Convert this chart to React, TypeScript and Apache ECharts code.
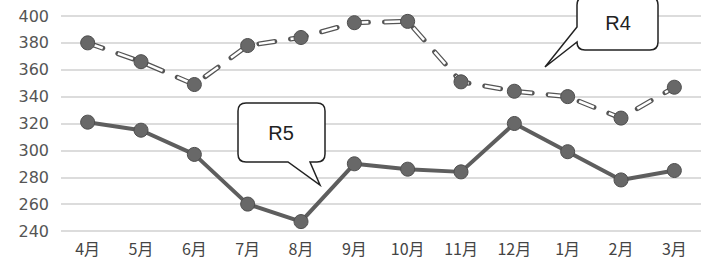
import React, { useEffect, useRef } from "react";
import * as echarts from "echarts";

const months = ["4月", "5月", "6月", "7月", "8月", "9月", "10月", "11月", "12月", "1月", "2月", "3月"];
const r4Values = [380, 366, 349, 378, 384, 395, 396, 351, 344, 340, 324, 347];
const r5Values = [321, 315, 297, 260, 247, 290, 286, 284, 320, 299, 278, 285];
const yMin = 240;
const yMax = 400;
const yStep = 20;

const bubbleR5 =
  "M 246 103 H 317 Q 325 103 325 111 V 154 Q 325 162 317 162 H 310 L 320 185 L 288 162 H 246 Q 238 162 238 154 V 111 Q 238 103 246 103 Z";
const bubbleR4 =
  "M 585 -3 H 650 Q 658 -3 658 5 V 42 Q 658 50 650 50 H 585 Q 577 50 577 42 L 545 67 L 577 27 V 5 Q 577 -3 585 -3 Z";

let registered = false;
function registerShapes() {
  if (registered) return;
  registered = true;
  echarts.graphic.registerShape("bubbleR5", echarts.graphic.extendPath(bubbleR5, {}));
  echarts.graphic.registerShape("bubbleR4", echarts.graphic.extendPath(bubbleR4, {}));
}

export default function App() {
  const ref = useRef<HTMLDivElement>(null);
  useEffect(() => {
    document.body.style.margin = "0";
    registerShapes();
    const chart = echarts.init(ref.current!, null, { renderer: "svg" });
    const dash = [16, 16];
    chart.setOption({
      animation: false,
      backgroundColor: "#ffffff",
      grid: { left: 61, right: 1, top: 16, bottom: 33, containLabel: false },
      xAxis: {
        type: "category",
        data: months,
        boundaryGap: true,
        axisLine: { show: false },
        axisTick: { show: false },
        axisLabel: {
          margin: 9,
          fontSize: 16,
          color: "#444444",
          fontFamily: "Noto Sans CJK JP",
        },
      },
      yAxis: {
        type: "value",
        min: yMin,
        max: yMax,
        interval: yStep,
        axisLine: { show: false },
        axisTick: { show: false },
        axisLabel: {
          margin: 12,
          fontSize: 16,
          color: "#555555",
          fontFamily: "DejaVu Sans",
        },
        splitLine: { lineStyle: { color: "#dcdcdc", width: 2 } },
      },
      series: [
        {
          name: "R4 outline",
          type: "line",
          data: r4Values,
          showSymbol: false,
          silent: true,
          z: 2,
          lineStyle: { color: "#555555", width: 5, type: dash, cap: "round" },
        },
        {
          name: "R4",
          type: "line",
          data: r4Values,
          symbol: "circle",
          symbolSize: 14,
          z: 3,
          lineStyle: { color: "#ffffff", width: 2.5, type: dash, cap: "butt" },
          itemStyle: { color: "#686868", borderColor: "#4e4e4e", borderWidth: 1 },
        },
        {
          name: "R5",
          type: "line",
          data: r5Values,
          symbol: "circle",
          symbolSize: 14,
          z: 3,
          lineStyle: { color: "#5e5e5e", width: 4 },
          itemStyle: { color: "#686868", borderColor: "#4e4e4e", borderWidth: 1 },
        },
      ],
      graphic: [
        {
          type: "bubbleR5",
          x: 0,
          y: 0,
          z: 10,
          style: { fill: "#ffffff", stroke: "#222222", lineWidth: 1.5 },
        },
        {
          type: "text",
          x: 281,
          y: 133,
          z: 11,
          style: {
            text: "R5",
            fontSize: 20,
            fontFamily: "Liberation Sans",
            fill: "#222222",
            align: "center",
            verticalAlign: "middle",
          },
        },
        {
          type: "bubbleR4",
          x: 0,
          y: 0,
          z: 10,
          style: { fill: "#ffffff", stroke: "#222222", lineWidth: 1.5 },
        },
        {
          type: "text",
          x: 618,
          y: 23,
          z: 11,
          style: {
            text: "R4",
            fontSize: 20,
            fontFamily: "Liberation Sans",
            fill: "#222222",
            align: "center",
            verticalAlign: "middle",
          },
        },
      ],
    });
    return () => chart.dispose();
  }, []);
  return <div ref={ref} style={{ width: 702, height: 264 }} />;
}
